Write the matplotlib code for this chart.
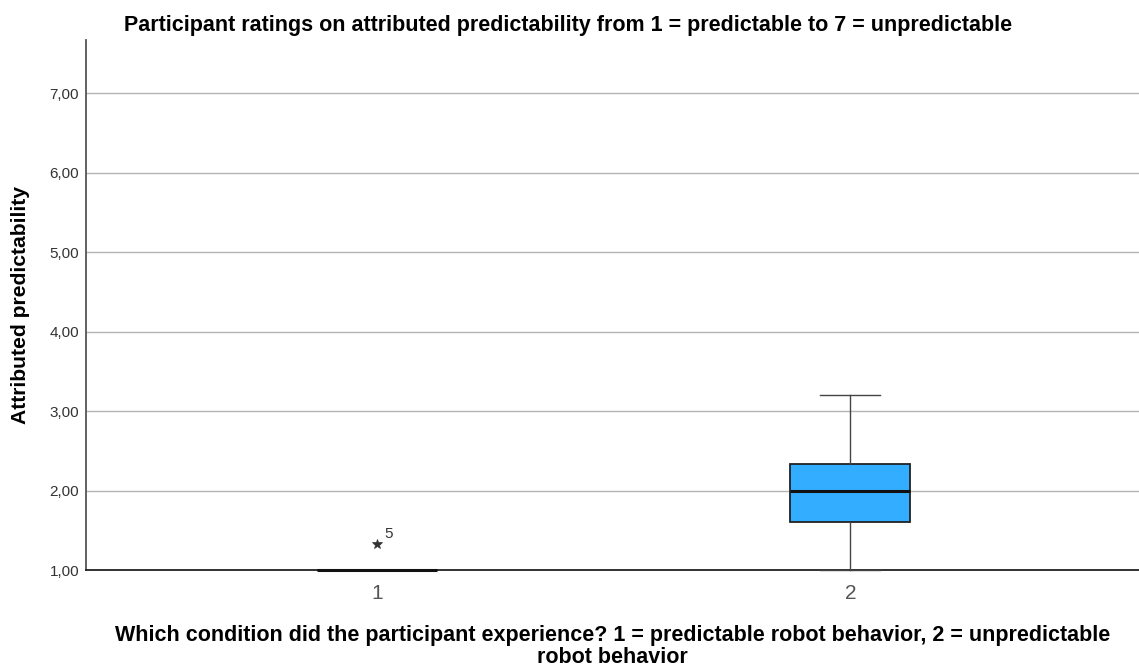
import matplotlib
matplotlib.use("Agg")
import matplotlib.pyplot as plt
from matplotlib.ticker import FuncFormatter

plt.rcParams['font.family'] = ['Liberation Sans', 'DejaVu Sans']

# Box summary per condition
conditions = ["1", "2"]
positions = [1, 2]
whisker_low = [1.0, 1.0]
q1 = [1.0, 1.6]
median = [1.0, 2.0]
q3 = [1.0, 2.33]
whisker_high = [1.0, 3.2]
extreme_values = [[1.333], []]
extreme_ids = [["5"], []]

title = "Participant ratings on attributed predictability from 1 = predictable to 7 = unpredictable"
xlabel = "Which condition did the participant experience? 1 = predictable robot behavior, 2 = unpredictable\nrobot behavior"
ylabel = "Attributed predictability"
yticks = [1, 2, 3, 4, 5, 6, 7]

fig = plt.figure(figsize=(11.39, 6.68), dpi=100)
ax = fig.add_axes([86 / 1139, 1 - 570 / 668, 1 - 86 / 1139, (570 - 40) / 668])

stats = []
for i in range(len(conditions)):
    stats.append(dict(med=median[i], q1=q1[i], q3=q3[i],
                      whislo=whisker_low[i], whishi=whisker_high[i],
                      fliers=[], label=conditions[i]))

ax.set_yticks(yticks)
ax.yaxis.set_major_formatter(FuncFormatter(lambda v, p: f"{v:.2f}".replace(".", ",")))
ax.grid(axis='y', color='#b4b4b4', linewidth=1.0, zorder=0)
ax.set_axisbelow(True)

parts = ax.bxp(stats, positions=positions, widths=0.254, patch_artist=True,
               showfliers=False,
               boxprops=dict(facecolor='#33adff', edgecolor='#222222', linewidth=1.3),
               medianprops=dict(color='#111111', linewidth=2.2),
               whiskerprops=dict(color='#444444', linewidth=1.0),
               capprops=dict(color='#444444', linewidth=1.0),
               capwidths=0.127, zorder=3)
for key in ('boxes', 'medians', 'whiskers', 'caps'):
    for artist in parts[key]:
        artist.set_clip_on(False)

for pos, vals, ids in zip(positions, extreme_values, extreme_ids):
    for v, lab in zip(vals, ids):
        ax.plot([pos], [v], marker='*', color='#333333', markersize=7,
                markeredgewidth=0.5, linestyle='none', zorder=4)
        ax.annotate(lab, (pos, v), xytext=(5, 4), textcoords='offset points',
                    fontsize=11, color='#333333')

ax.set_xlim(0.385, 2.61)
ax.set_ylim(1.0, 7.67)
ax.set_xticks(positions)
ax.set_xticklabels(conditions)

for s in ['top', 'right']:
    ax.spines[s].set_visible(False)
ax.spines['left'].set_color('#555555')
ax.spines['bottom'].set_color('#222222')
ax.spines['left'].set_linewidth(1.3)
ax.spines['bottom'].set_linewidth(1.3)

ax.tick_params(axis='both', length=0)
ax.tick_params(axis='y', labelsize=11, labelcolor='#333333', pad=5)
ax.tick_params(axis='x', labelsize=15, labelcolor='#555555', pad=10)

ax.set_ylabel(ylabel, fontsize=15.2, fontweight='bold', labelpad=14)
ax.set_xlabel(xlabel, fontsize=15.5, fontweight='bold', labelpad=16, linespacing=1.05)
fig.text(568 / 1139, 1 - 26 / 668, title, ha='center', va='center',
         fontsize=15.5, fontweight='bold')

fig.savefig("out.png", dpi=100)
